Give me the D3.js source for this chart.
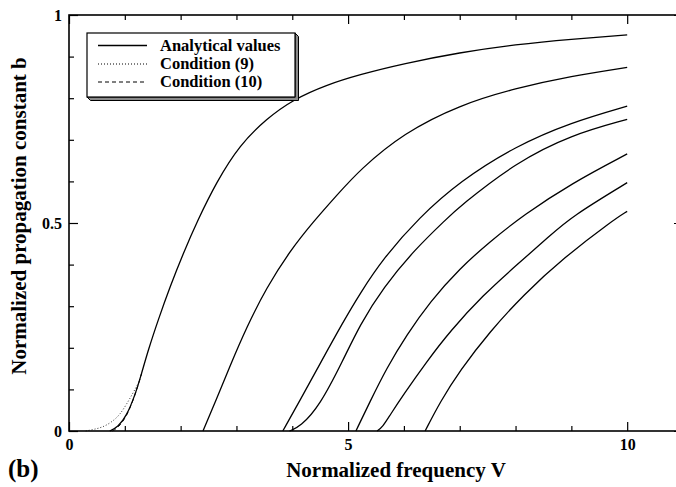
<!DOCTYPE html>
<html>
<head>
<meta charset="utf-8">
<script src="https://cdn.jsdelivr.net/npm/d3@7"></script>
<style>
  html, body { margin: 0; padding: 0; background: #fff; }
  svg { display: block; }
  text { font-family: "Liberation Serif", "Times New Roman", serif; font-weight: bold; fill: #000; }
</style>
</head>
<body>
<svg id="chart" width="676" height="487"></svg>
<script>
// Normalized frequency V and propagation constant b for each guided mode
const vLP01 = [0.73, 0.88, 1.03, 1.18, 1.30, 1.42, 1.60, 1.81, 2.05, 2.30, 2.64, 3.06, 3.54, 4.02, 4.61, 5.21, 5.99, 7.0, 8.0, 9.0, 10.0];
const bLP01 = [0, 0.010, 0.036, 0.085, 0.138, 0.195, 0.268, 0.347, 0.428, 0.505, 0.598, 0.688, 0.751, 0.797, 0.832, 0.857, 0.883, 0.910, 0.929, 0.942, 0.952];

const vLP11 = [2.40, 2.64, 2.88, 3.18, 3.54, 3.96, 4.37, 4.80, 5.21, 5.99, 7.0, 8.0, 9.0, 10.0];
const bLP11 = [0, 0.076, 0.155, 0.249, 0.345, 0.433, 0.502, 0.567, 0.628, 0.716, 0.784, 0.824, 0.853, 0.874];

const vLP21 = [3.83, 4.14, 4.49, 4.91, 5.21, 5.63, 6.27, 7.0, 8.0, 9.0, 10.0];
const bLP21 = [0, 0.074, 0.160, 0.262, 0.330, 0.415, 0.513, 0.600, 0.685, 0.742, 0.781];

const vLP02 = [3.95, 4.14, 4.49, 4.91, 5.21, 5.63, 6.20, 6.75, 7.0, 8.0, 9.0, 10.0];
const bLP02 = [0, 0.010, 0.060, 0.170, 0.255, 0.345, 0.437, 0.508, 0.540, 0.645, 0.712, 0.749];

const vLP31 = [5.14, 5.39, 5.69, 6.05, 6.47, 7.0, 7.54, 8.14, 9.0, 10.0];
const bLP31 = [0, 0.070, 0.151, 0.231, 0.311, 0.391, 0.455, 0.519, 0.595, 0.666];

const vLP12 = [5.52, 5.62, 5.75, 5.99, 6.41, 6.82, 7.42, 8.02, 8.62, 9.0, 10.0];
const bLP12 = [0, 0.010, 0.038, 0.087, 0.167, 0.239, 0.327, 0.399, 0.470, 0.515, 0.597];

const vLP41 = [6.38, 6.65, 7.0, 7.54, 8.14, 8.85, 9.75, 10.0];
const bLP41 = [0, 0.070, 0.145, 0.239, 0.327, 0.415, 0.507, 0.528];

// Approximate conditions near the fundamental-mode cutoff
const vCond9 = [0.30, 0.45, 0.60, 0.75, 0.90, 1.03, 1.15, 1.27];
const bCond9 = [0, 0.004, 0.009, 0.020, 0.037, 0.064, 0.092, 0.122];
const vCond10 = [0.78, 0.88, 1.03, 1.18, 1.30];
const bCond10 = [0, 0.008, 0.034, 0.084, 0.138];

// Axis ticks
const xMajorTicks = [0, 5, 10];
const xMinorTicks = [1, 2, 3, 4, 6, 7, 8, 9];
const yMajorTicks = [0, 0.5, 1];
const yMinorTicks = [0.1, 0.2, 0.3, 0.4, 0.6, 0.7, 0.8, 0.9];

const legendLabels = ["Analytical values", "Condition (9)", "Condition (10)"];
const xTitle = "Normalized frequency V";
const yTitle = "Normalized propagation constant b";
const panelLabel = "(b)";

const svg = d3.select("#chart");
const x = d3.scaleLinear().domain([0, 11]).range([69, 683]);
const y = d3.scaleLinear().domain([0, 1]).range([431, 15]);

const fmt = d => (d === 0.5 ? "0.5" : String(d));

// Curves
const modes = [
  [vLP01, bLP01], [vLP11, bLP11], [vLP21, bLP21], [vLP02, bLP02],
  [vLP31, bLP31], [vLP12, bLP12], [vLP41, bLP41]
];
const line = d3.line().x(d => x(d[0])).y(d => y(d[1])).curve(d3.curveBasis);
const zipped = (vs, bs) => vs.map((v, i) => [v, bs[i]]);

const curves = svg.append("g");
curves.selectAll("path.mode")
  .data(modes)
  .join("path")
  .attr("class", "mode")
  .attr("d", m => line(zipped(m[0], m[1])))
  .attr("fill", "none")
  .attr("stroke", "#000")
  .attr("stroke-width", 1.3);

curves.append("path")
  .attr("d", line(zipped(vCond9, bCond9)))
  .attr("fill", "none")
  .attr("stroke", "#333")
  .attr("stroke-width", 1)
  .attr("stroke-dasharray", "1,2");

curves.append("path")
  .attr("d", line(zipped(vCond10, bCond10)))
  .attr("fill", "none")
  .attr("stroke", "#000")
  .attr("stroke-width", 1)
  .attr("stroke-dasharray", "4,3");

// Axes with inward ticks on all four sides
function addAxis(axis, tx, ty, withLabels) {
  const g = svg.append("g").attr("transform", `translate(${tx},${ty})`).call(axis);
  g.select(".domain").remove();
  g.selectAll(".tick line").attr("stroke", "#000").attr("stroke-width", 1.2);
  if (!withLabels) g.selectAll(".tick text").remove();
  else g.selectAll(".tick text").attr("font-size", 16).attr("font-family", null);
  return g;
}
addAxis(d3.axisBottom(x).tickValues(xMajorTicks).tickSize(-9).tickPadding(8).tickFormat(fmt), 0, 431, true);
addAxis(d3.axisBottom(x).tickValues(xMinorTicks).tickSize(-5), 0, 431, false);
addAxis(d3.axisTop(x).tickValues(xMajorTicks).tickSize(-9), 0, 15, false);
addAxis(d3.axisTop(x).tickValues(xMinorTicks).tickSize(-5), 0, 15, false);
addAxis(d3.axisLeft(y).tickValues(yMajorTicks).tickSize(-9).tickPadding(7).tickFormat(fmt), 69, 0, true);
addAxis(d3.axisLeft(y).tickValues(yMinorTicks).tickSize(-5), 69, 0, false);
addAxis(d3.axisRight(y).tickValues(yMajorTicks).tickSize(-9), 683, 0, false);
addAxis(d3.axisRight(y).tickValues(yMinorTicks).tickSize(-5), 683, 0, false);

// Plot frame
svg.append("rect")
  .attr("x", x(0)).attr("y", y(1))
  .attr("width", x(11) - x(0)).attr("height", y(0) - y(1))
  .attr("fill", "none").attr("stroke", "#000").attr("stroke-width", 1.6);

// Titles
svg.append("text")
  .attr("x", 396).attr("y", 477)
  .attr("text-anchor", "middle").attr("font-size", 21)
  .text(xTitle);
svg.append("text")
  .attr("transform", "translate(26,216) rotate(-90)")
  .attr("text-anchor", "middle").attr("font-size", 21)
  .text(yTitle);
svg.append("text")
  .attr("x", 8).attr("y", 477)
  .attr("font-size", 25)
  .text(panelLabel);

// Legend box with a bevelled drop shadow
const lx0 = 87, ly0 = 33, lx1 = 295, ly1 = 97, d = 3.5;
const legend = svg.append("g");
legend.append("polygon")
  .attr("points", [[lx1, ly0], [lx1 + d, ly0 + d], [lx1 + d, ly1 + d], [lx0 + d, ly1 + d], [lx0, ly1], [lx1, ly1]].map(p => p.join(",")).join(" "))
  .attr("fill", "#8a8a8a").attr("stroke", "#000").attr("stroke-width", 1);
legend.append("rect")
  .attr("x", lx0).attr("y", ly0).attr("width", lx1 - lx0).attr("height", ly1 - ly0)
  .attr("fill", "#fff").attr("stroke", "#000").attr("stroke-width", 1.2);

const legendDash = [null, "1,2", "4,3"];
const legendWidth = [1.3, 1, 1];
const rowY = [45.5, 64, 82];
legendLabels.forEach((lab, i) => {
  legend.append("line")
    .attr("x1", 98).attr("x2", 147).attr("y1", rowY[i]).attr("y2", rowY[i])
    .attr("stroke", "#000").attr("stroke-width", legendWidth[i])
    .attr("stroke-dasharray", legendDash[i]);
  legend.append("text")
    .attr("x", 160).attr("y", rowY[i]).attr("dy", "0.33em")
    .attr("font-size", 16.5)
    .text(lab);
});
</script>
</body>
</html>
